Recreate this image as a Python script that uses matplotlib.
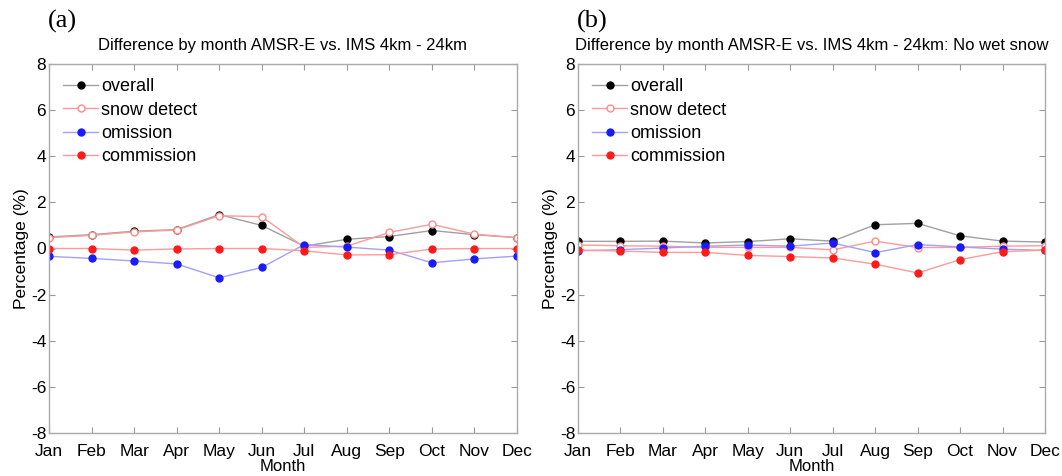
import matplotlib
matplotlib.use("Agg")
import matplotlib.pyplot as plt

months = ["Jan", "Feb", "Mar", "Apr", "May", "Jun", "Jul", "Aug", "Sep", "Oct", "Nov", "Dec"]

# Panel (a)
a_overall = [0.50, 0.60, 0.75, 0.82, 1.47, 1.00, 0.10, 0.40, 0.52, 0.78, 0.60, 0.47]
a_snow = [0.47, 0.57, 0.72, 0.80, 1.42, 1.38, 0.05, 0.10, 0.70, 1.05, 0.62, 0.47]
a_omission = [-0.34, -0.43, -0.54, -0.67, -1.27, -0.82, 0.17, 0.06, -0.07, -0.62, -0.45, -0.33]
a_commission = [0.00, 0.00, -0.07, -0.02, 0.00, 0.00, -0.10, -0.28, -0.27, -0.02, 0.00, 0.00]

# Panel (b)
b_overall = [0.31, 0.31, 0.32, 0.24, 0.30, 0.42, 0.32, 1.03, 1.09, 0.55, 0.32, 0.28]
b_snow = [0.15, 0.12, 0.10, 0.05, 0.05, 0.05, -0.06, 0.32, 0.04, 0.05, 0.10, 0.12]
b_omission = [-0.10, -0.05, 0.02, 0.10, 0.15, 0.10, 0.24, -0.18, 0.17, 0.07, -0.03, -0.08]
b_commission = [-0.07, -0.11, -0.17, -0.17, -0.30, -0.35, -0.41, -0.68, -1.06, -0.48, -0.14, -0.07]

titles = ["Difference by month AMSR-E vs. IMS 4km - 24km",
          "Difference by month AMSR-E vs. IMS 4km - 24km: No wet snow"]
panel_labels = ["(a)", "(b)"]
legend_labels = ["overall", "snow detect", "omission", "commission"]
yticks = [-8, -6, -4, -2, 0, 2, 4, 6, 8]

font = "Liberation Sans"
fig = plt.figure(figsize=(10.62, 4.76), dpi=100)
ax_rects = [[49/1062, 1-433/476, 468/1062, 369/476],
            [578/1062, 1-433/476, 467/1062, 369/476]]

styles = [
    dict(lc="#a0a0a0", mfc="black", mec="black"),
    dict(lc="#ff9a9a", mfc="white", mec="#ff8a8a"),
    dict(lc="#a0a0ff", mfc="#1a1aff", mec="#1a1aff"),
    dict(lc="#ff9a9a", mfc="#ff1a1a", mec="#ff1a1a"),
]

data = [[a_overall, a_snow, a_omission, a_commission],
        [b_overall, b_snow, b_omission, b_commission]]

x = list(range(len(months)))
for i in range(2):
    ax = fig.add_axes(ax_rects[i])
    for series, st, lab in zip(data[i], styles, legend_labels):
        ax.plot(x, series, color=st["lc"], lw=1.0, marker="o", ms=5.0,
                mfc=st["mfc"], mec=st["mec"], mew=1.0, label=lab)
    ax.set_xlim(0, 11)
    ax.set_ylim(-8, 8)
    ax.set_xticks(x)
    ax.set_xticklabels(months, fontsize=12.5, family=font)
    ax.set_yticks(yticks)
    ax.set_yticklabels([str(t) for t in yticks], fontsize=12.5, family=font)
    ax.tick_params(direction="in", length=4, color="#999999", top=True, right=True)
    ax.tick_params(axis="x", pad=8)
    ax.tick_params(axis="y", pad=2)
    for sp in ax.spines.values():
        sp.set_color("#aaaaaa")
        sp.set_linewidth(1.0)
    ax.set_xlabel("Month", fontsize=12, family=font, labelpad=0)
    ax.set_ylabel("Percentage (%)", fontsize=12.5, family=font, labelpad=1)
    ax.set_title(titles[i], fontsize=12, family=font, pad=10)
    ax.legend(loc="upper left", frameon=False, prop={"family": font, "size": 13},
              handlelength=1.9, handletextpad=0.2, labelspacing=0.35,
              borderaxespad=0.5, borderpad=0.3)
    fig.text(ax_rects[i][0] - 0.001, 0.955, panel_labels[i], fontsize=19,
             family="Liberation Serif", va="center", ha="left")

fig.savefig("out.png", dpi=100)
